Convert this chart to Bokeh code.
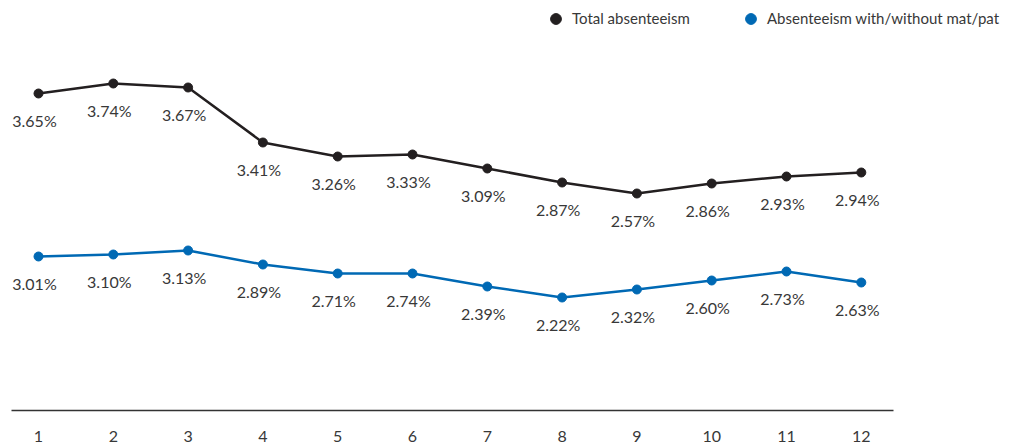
from bokeh.plotting import figure
from bokeh.models import Legend, LegendItem, FixedTicker, ColumnDataSource
from bokeh.core.properties import value
from bokeh.embed import file_html
from bokeh.resources import INLINE

# ---- data ----
months = [1, 2, 3, 4, 5, 6, 7, 8, 9, 10, 11, 12]
# labelled values (%)
total_labels = [3.65, 3.74, 3.67, 3.41, 3.26, 3.33, 3.09, 2.87, 2.57, 2.86, 2.93, 2.94]
mat_labels = [3.01, 3.10, 3.13, 2.89, 2.71, 2.74, 2.39, 2.22, 2.32, 2.60, 2.73, 2.63]
# plotted heights as drawn in the picture (relative units above the baseline)
total_pos = [3.17, 3.27, 3.23, 2.68, 2.54, 2.56, 2.42, 2.28, 2.17, 2.27, 2.34, 2.38]
mat_pos = [1.54, 1.56, 1.60, 1.46, 1.37, 1.37, 1.24, 1.13, 1.21, 1.30, 1.39, 1.28]
series_names = ["Total absenteeism", "Absenteeism with/without mat/pat"]

FONT = "Lato"
TXT = "#383838"
BLACK = "#231f20"
BLUE = "#0069b4"

W, H = 1011, 445
bottom = 35
frame_h = H - bottom
px_per_x = 74.8
x0 = 1 - 38 / px_per_x

p = figure(width=W, height=H, output_backend="svg", toolbar_location=None,
           x_range=(x0, x0 + W / px_per_x), y_range=(0, frame_h / 100.0),
           min_border_left=0, min_border_right=0,
           min_border_top=0, min_border_bottom=bottom,
           tools="", y_axis_location=None)
p.outline_line_color = None
p.grid.visible = False
p.background_fill_color = "white"
p.border_fill_color = "white"

xa = p.xaxis[0]
xa.ticker = FixedTicker(ticks=months)
xa.bounds = (1 - 27 / px_per_x, 1 + 855 / px_per_x)
xa.axis_line_color = "#333333"
xa.axis_line_width = 1.5
xa.major_tick_line_color = None
xa.minor_tick_line_color = None
xa.major_tick_in = 0
xa.major_tick_out = 0
xa.major_label_standoff = 20
xa.major_label_text_font = FONT
xa.major_label_text_font_size = "16px"
xa.major_label_text_color = TXT

src_t = ColumnDataSource(dict(x=months, y=total_pos,
                              lab=[f"{v:.2f}%" for v in total_labels]))
src_m = ColumnDataSource(dict(x=months, y=mat_pos,
                              lab=[f"{v:.2f}%" for v in mat_labels]))

p.line("x", "y", source=src_t, line_color=BLACK, line_width=2.5)
rt = p.scatter("x", "y", source=src_t, size=9, fill_color=BLACK, line_color=BLACK)
p.line("x", "y", source=src_m, line_color=BLUE, line_width=2.5)
rm = p.scatter("x", "y", source=src_m, size=9, fill_color=BLUE, line_color=BLUE)

for src in (src_t, src_m):
    p.text("x", "y", text="lab", source=src, x_offset=-4, y_offset=27,
           text_align="center", text_baseline="middle",
           text_font=value(FONT), text_font_size="16px", text_color=TXT)

legend = Legend(items=[LegendItem(label=series_names[0], renderers=[rt]),
                       LegendItem(label=series_names[1], renderers=[rm])],
                orientation="horizontal", location=(542, frame_h - 31.5),
                glyph_width=27, glyph_height=27, label_standoff=3,
                label_width=150, spacing=15, padding=0, margin=0,
                border_line_color=None, background_fill_alpha=0,
                label_text_font=FONT, label_text_font_size="15px",
                label_text_color=TXT)
p.add_layout(legend)

open("out.html", "w").write(file_html(p, INLINE))
